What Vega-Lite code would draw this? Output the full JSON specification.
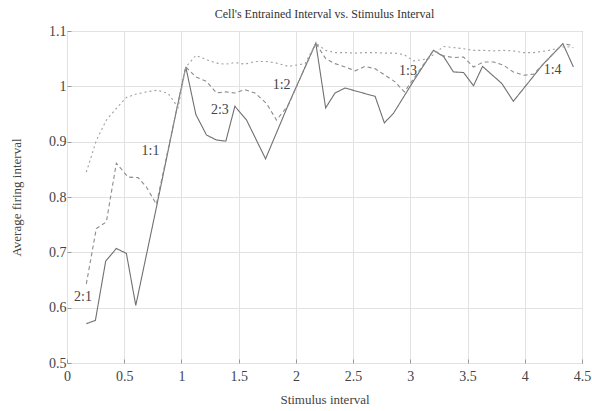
{
  "$schema": "https://vega.github.io/schema/vega-lite/v6.json",
  "autosize": "none",
  "width": 515,
  "height": 332,
  "padding": {"left": 67, "top": 31, "right": 10, "bottom": 48},
  "background": "white",
  "title": {"text": "Cell's Entrained Interval vs. Stimulus Interval", "font": "Liberation Serif", "fontSize": 12, "fontWeight": "normal", "color": "#333", "offset": 3},
  "config": {
    "view": {"stroke": "#999", "strokeWidth": 1},
    "axis": {"labelFont": "Liberation Serif", "titleFont": "Liberation Serif", "labelFontSize": 14, "titleFontSize": 13, "titleFontWeight": "normal", "labelColor": "#444", "titleColor": "#444", "gridColor": "#e2e2e2", "domain": false, "tickColor": "#999", "tickSize": -4, "format": "~g", "labelOverlap": false, "labelFlush": false}
  },
  "datasets": {
    "lines": [
      {"s": "solid", "x": 0.169, "y": 0.571}, {"s": "solid", "x": 0.248, "y": 0.577}, {"s": "solid", "x": 0.338, "y": 0.684}, {"s": "solid", "x": 0.431, "y": 0.707}, {"s": "solid", "x": 0.519, "y": 0.698}, {"s": "solid", "x": 0.601, "y": 0.604}, {"s": "solid", "x": 0.781, "y": 0.781}, {"s": "solid", "x": 0.955, "y": 0.955}, {"s": "solid", "x": 1.038, "y": 1.035}, {"s": "solid", "x": 1.126, "y": 0.949}, {"s": "solid", "x": 1.219, "y": 0.912}, {"s": "solid", "x": 1.306, "y": 0.903}, {"s": "solid", "x": 1.388, "y": 0.901}, {"s": "solid", "x": 1.467, "y": 0.964}, {"s": "solid", "x": 1.569, "y": 0.939}, {"s": "solid", "x": 1.735, "y": 0.869}, {"s": "solid", "x": 1.934, "y": 0.967}, {"s": "solid", "x": 2.174, "y": 1.078}, {"s": "solid", "x": 2.26, "y": 0.961}, {"s": "solid", "x": 2.342, "y": 0.988}, {"s": "solid", "x": 2.43, "y": 0.997}, {"s": "solid", "x": 2.619, "y": 0.986}, {"s": "solid", "x": 2.692, "y": 0.982}, {"s": "solid", "x": 2.773, "y": 0.934}, {"s": "solid", "x": 2.852, "y": 0.951}, {"s": "solid", "x": 3.035, "y": 1.012}, {"s": "solid", "x": 3.202, "y": 1.065}, {"s": "solid", "x": 3.29, "y": 1.054}, {"s": "solid", "x": 3.377, "y": 1.026}, {"s": "solid", "x": 3.465, "y": 1.025}, {"s": "solid", "x": 3.552, "y": 1.001}, {"s": "solid", "x": 3.631, "y": 1.036}, {"s": "solid", "x": 3.8, "y": 1.005}, {"s": "solid", "x": 3.9, "y": 0.973}, {"s": "solid", "x": 4.16, "y": 1.04}, {"s": "solid", "x": 4.333, "y": 1.077}, {"s": "solid", "x": 4.425, "y": 1.035},
      {"s": "dashed", "x": 0.169, "y": 0.643}, {"s": "dashed", "x": 0.256, "y": 0.743}, {"s": "dashed", "x": 0.344, "y": 0.755}, {"s": "dashed", "x": 0.431, "y": 0.861}, {"s": "dashed", "x": 0.534, "y": 0.836}, {"s": "dashed", "x": 0.621, "y": 0.835}, {"s": "dashed", "x": 0.694, "y": 0.818}, {"s": "dashed", "x": 0.781, "y": 0.787}, {"s": "dashed", "x": 0.955, "y": 0.955}, {"s": "dashed", "x": 1.038, "y": 1.035}, {"s": "dashed", "x": 1.126, "y": 1.017}, {"s": "dashed", "x": 1.219, "y": 1.009}, {"s": "dashed", "x": 1.306, "y": 0.988}, {"s": "dashed", "x": 1.388, "y": 0.99}, {"s": "dashed", "x": 1.467, "y": 0.988}, {"s": "dashed", "x": 1.555, "y": 0.994}, {"s": "dashed", "x": 1.642, "y": 0.988}, {"s": "dashed", "x": 1.744, "y": 0.969}, {"s": "dashed", "x": 1.831, "y": 0.939}, {"s": "dashed", "x": 1.934, "y": 0.966}, {"s": "dashed", "x": 2.174, "y": 1.078}, {"s": "dashed", "x": 2.26, "y": 1.05}, {"s": "dashed", "x": 2.342, "y": 1.041}, {"s": "dashed", "x": 2.43, "y": 1.035}, {"s": "dashed", "x": 2.517, "y": 1.028}, {"s": "dashed", "x": 2.604, "y": 1.036}, {"s": "dashed", "x": 2.69, "y": 1.032}, {"s": "dashed", "x": 2.78, "y": 1.02}, {"s": "dashed", "x": 2.867, "y": 1.008}, {"s": "dashed", "x": 2.948, "y": 0.99}, {"s": "dashed", "x": 3.202, "y": 1.065}, {"s": "dashed", "x": 3.29, "y": 1.055}, {"s": "dashed", "x": 3.377, "y": 1.052}, {"s": "dashed", "x": 3.465, "y": 1.053}, {"s": "dashed", "x": 3.552, "y": 1.035}, {"s": "dashed", "x": 3.64, "y": 1.044}, {"s": "dashed", "x": 3.727, "y": 1.044}, {"s": "dashed", "x": 3.815, "y": 1.038}, {"s": "dashed", "x": 3.9, "y": 1.026}, {"s": "dashed", "x": 3.99, "y": 1.02}, {"s": "dashed", "x": 4.077, "y": 1.022}, {"s": "dashed", "x": 4.333, "y": 1.077}, {"s": "dashed", "x": 4.418, "y": 1.074},
      {"s": "dotted", "x": 0.169, "y": 0.845}, {"s": "dotted", "x": 0.256, "y": 0.902}, {"s": "dotted", "x": 0.344, "y": 0.939}, {"s": "dotted", "x": 0.431, "y": 0.96}, {"s": "dotted", "x": 0.519, "y": 0.98}, {"s": "dotted", "x": 0.606, "y": 0.986}, {"s": "dotted", "x": 0.694, "y": 0.99}, {"s": "dotted", "x": 0.79, "y": 0.993}, {"s": "dotted", "x": 0.884, "y": 0.987}, {"s": "dotted", "x": 0.971, "y": 0.962}, {"s": "dotted", "x": 1.038, "y": 1.035}, {"s": "dotted", "x": 1.126, "y": 1.056}, {"s": "dotted", "x": 1.219, "y": 1.048}, {"s": "dotted", "x": 1.306, "y": 1.042}, {"s": "dotted", "x": 1.388, "y": 1.04}, {"s": "dotted", "x": 1.467, "y": 1.043}, {"s": "dotted", "x": 1.555, "y": 1.04}, {"s": "dotted", "x": 1.642, "y": 1.045}, {"s": "dotted", "x": 1.744, "y": 1.045}, {"s": "dotted", "x": 1.831, "y": 1.042}, {"s": "dotted", "x": 1.934, "y": 1.036}, {"s": "dotted", "x": 2.08, "y": 1.041}, {"s": "dotted", "x": 2.174, "y": 1.078}, {"s": "dotted", "x": 2.26, "y": 1.065}, {"s": "dotted", "x": 2.342, "y": 1.061}, {"s": "dotted", "x": 2.43, "y": 1.061}, {"s": "dotted", "x": 2.517, "y": 1.06}, {"s": "dotted", "x": 2.604, "y": 1.061}, {"s": "dotted", "x": 2.69, "y": 1.061}, {"s": "dotted", "x": 2.78, "y": 1.06}, {"s": "dotted", "x": 2.867, "y": 1.06}, {"s": "dotted", "x": 2.948, "y": 1.057}, {"s": "dotted", "x": 3.027, "y": 1.046}, {"s": "dotted", "x": 3.158, "y": 1.05}, {"s": "dotted", "x": 3.29, "y": 1.072}, {"s": "dotted", "x": 3.377, "y": 1.07}, {"s": "dotted", "x": 3.465, "y": 1.068}, {"s": "dotted", "x": 3.552, "y": 1.065}, {"s": "dotted", "x": 3.64, "y": 1.065}, {"s": "dotted", "x": 3.727, "y": 1.064}, {"s": "dotted", "x": 3.815, "y": 1.065}, {"s": "dotted", "x": 3.9, "y": 1.064}, {"s": "dotted", "x": 3.99, "y": 1.061}, {"s": "dotted", "x": 4.077, "y": 1.061}, {"s": "dotted", "x": 4.21, "y": 1.065}, {"s": "dotted", "x": 4.354, "y": 1.072}, {"s": "dotted", "x": 4.425, "y": 1.07}
    ],
    "labels": [
      {"t": "2:1", "x": 0.14, "y": 0.62}, {"t": "1:1", "x": 0.73, "y": 0.883}, {"t": "2:3", "x": 1.336, "y": 0.958}, {"t": "1:2", "x": 1.875, "y": 1.002}, {"t": "1:3", "x": 2.98, "y": 1.028}, {"t": "1:4", "x": 4.243, "y": 1.03}
    ]
  },
  "layer": [
    {
      "data": {"name": "lines"},
      "mark": {"type": "line", "strokeWidth": 1.1},
      "encoding": {
        "x": {"field": "x", "type": "quantitative", "scale": {"domain": [0, 4.5], "nice": false}, "axis": {"title": "Stimulus interval", "values": [0, 0.5, 1, 1.5, 2, 2.5, 3, 3.5, 4, 4.5], "labelPadding": 10, "titlePadding": 10}},
        "y": {"field": "y", "type": "quantitative", "scale": {"domain": [0.5, 1.1], "nice": false, "zero": false}, "axis": {"title": "Average firing interval", "values": [0.5, 0.6, 0.7, 0.8, 0.9, 1, 1.1], "labelPadding": 5, "titlePadding": 25}},
        "detail": {"field": "s"},
        "color": {"field": "s", "type": "nominal", "scale": {"domain": ["solid", "dashed", "dotted"], "range": ["#707070", "#8c8c8c", "#a0a0a0"]}, "legend": null},
        "strokeDash": {"field": "s", "type": "nominal", "scale": {"domain": ["solid", "dashed", "dotted"], "range": [[1, 0], [4, 3], [2, 3]]}, "legend": null}
      }
    },
    {
      "data": {"name": "labels"},
      "mark": {"type": "text", "font": "Liberation Serif", "fontSize": 14, "color": "#444"},
      "encoding": {
        "x": {"field": "x", "type": "quantitative"},
        "y": {"field": "y", "type": "quantitative"},
        "text": {"field": "t"}
      }
    }
  ]
}
